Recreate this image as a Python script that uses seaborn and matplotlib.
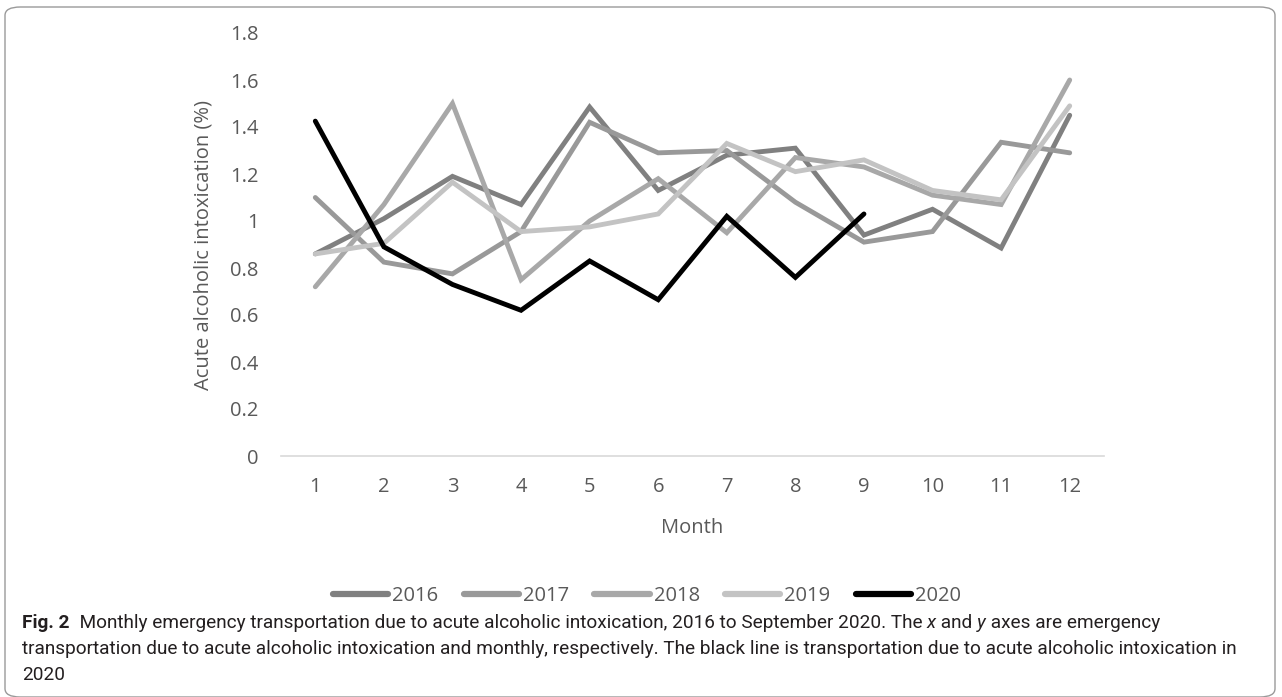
import numpy as np
import pandas as pd
import seaborn as sns
import matplotlib.pyplot as plt
from matplotlib.patches import FancyBboxPatch

# monthly share of emergency transports due to acute alcoholic intoxication (%)
months = list(range(1, 13))
y2016 = [0.86, 1.01, 1.19, 1.07, 1.485, 1.13, 1.28, 1.31, 0.94, 1.05, 0.885, 1.45]
y2017 = [1.10, 0.825, 0.775, 0.955, 1.42, 1.29, 1.30, 1.08, 0.91, 0.955, 1.335, 1.29]
y2018 = [0.72, 1.07, 1.50, 0.75, 1.00, 1.18, 0.95, 1.27, 1.23, 1.11, 1.07, 1.60]
y2019 = [0.86, 0.905, 1.165, 0.955, 0.975, 1.03, 1.33, 1.21, 1.26, 1.13, 1.09, 1.49]
y2020 = [1.425, 0.89, 0.73, 0.62, 0.83, 0.665, 1.02, 0.76, 1.03]  # up to September

years = ['2016', '2017', '2018', '2019', '2020']
series = [y2016, y2017, y2018, y2019, y2020]
colors = ['#808080', '#999999', '#a8a8a8', '#c3c3c3', '#000000']
yticks = [0, 0.2, 0.4, 0.6, 0.8, 1.0, 1.2, 1.4, 1.6, 1.8]

rows = []
for yr, vals in zip(years, series):
    for m, v in zip(months, vals):
        rows.append({'Month': m, 'Value': v, 'Year': yr})
df = pd.DataFrame(rows)

sns.set_style('white')
plt.rcParams['font.family'] = ['Open Sans', 'DejaVu Sans']
FS = 14.5
TXT = '#595959'

fig = plt.figure(figsize=(12.82, 6.97), dpi=100)
ax = fig.add_axes([281 / 1282, 241 / 697, 823 / 1282, 423 / 697])

sns.lineplot(data=df, x='Month', y='Value', hue='Year', palette=dict(zip(years, colors)),
             linewidth=3.5, ax=ax, legend=True)
for ln in ax.lines:
    ln.set_solid_capstyle('round')
    ln.set_solid_joinstyle('miter')

ax.set_xlim(0.5, 12.5)
ax.set_ylim(0, 1.8)
ax.set_xticks(months)
ax.set_xticklabels([str(m) for m in months])
ax.set_yticks(yticks)
ax.set_yticklabels([f'{v:g}' for v in yticks])
ax.tick_params(axis='both', length=0, labelsize=FS, labelcolor=TXT)
ax.tick_params(axis='x', pad=15)
ax.tick_params(axis='y', pad=16)
for s in ['top', 'right', 'left']:
    ax.spines[s].set_visible(False)
ax.spines['bottom'].set_color('#d9d9d9')
ax.spines['bottom'].set_linewidth(1.2)
ax.set_xlabel('Month', fontsize=FS, color=TXT, labelpad=15)
ax.set_ylabel('Acute alcoholic intoxication (%)', fontsize=FS, color=TXT, labelpad=12)

handles, labels = ax.get_legend_handles_labels()
ax.get_legend().remove()
leg = fig.legend(handles, labels, loc='center', ncol=5, frameon=False,
                 bbox_to_anchor=(647 / 1282, 1 - 596 / 697), fontsize=FS,
                 handlelength=2.75, handletextpad=0.2, columnspacing=1.25)
for t in leg.get_texts():
    t.set_color(TXT)
for h in leg.get_lines():
    h.set_linewidth(4.5)
    h.set_solid_capstyle('round')

# rounded frame around the figure
frame = FancyBboxPatch((5 / 1282, 0.0), 1270 / 1282, 690 / 697,
                       boxstyle='round,pad=0,rounding_size=0.012',
                       transform=fig.transFigure, fill=False,
                       edgecolor='#9a9a9a', linewidth=1.0)
fig.patches.append(frame)

# caption with mixed styles
renderer = fig.canvas.get_renderer()
cap_kw = dict(fontsize=13.7, color='#231f20', family=['Roboto', 'DejaVu Sans'], va='center')


def draw_runs(x, y, runs):
    for s, extra in runs:
        kw = dict(cap_kw)
        kw.update(extra)
        t = fig.text(x, y, s, **kw)
        x += t.get_window_extent(renderer).width / fig.bbox.width


draw_runs(22 / 1282, 1 - 623 / 697, [
    ('Fig. 2', {'weight': 'bold'}),
    ('  Monthly emergency transportation due to acute alcoholic intoxication, 2016 to September 2020. The ', {}),
    ('x', {'style': 'italic'}),
    (' and ', {}),
    ('y', {'style': 'italic'}),
    (' axes are emergency', {}),
])
draw_runs(22 / 1282, 1 - 649 / 697, [
    ('transportation due to acute alcoholic intoxication and monthly, respectively. '
     'The black line is transportation due to acute alcoholic intoxication in', {}),
])
draw_runs(22 / 1282, 1 - 675 / 697, [('2020', {})])

fig.savefig('out.png', dpi=100)
